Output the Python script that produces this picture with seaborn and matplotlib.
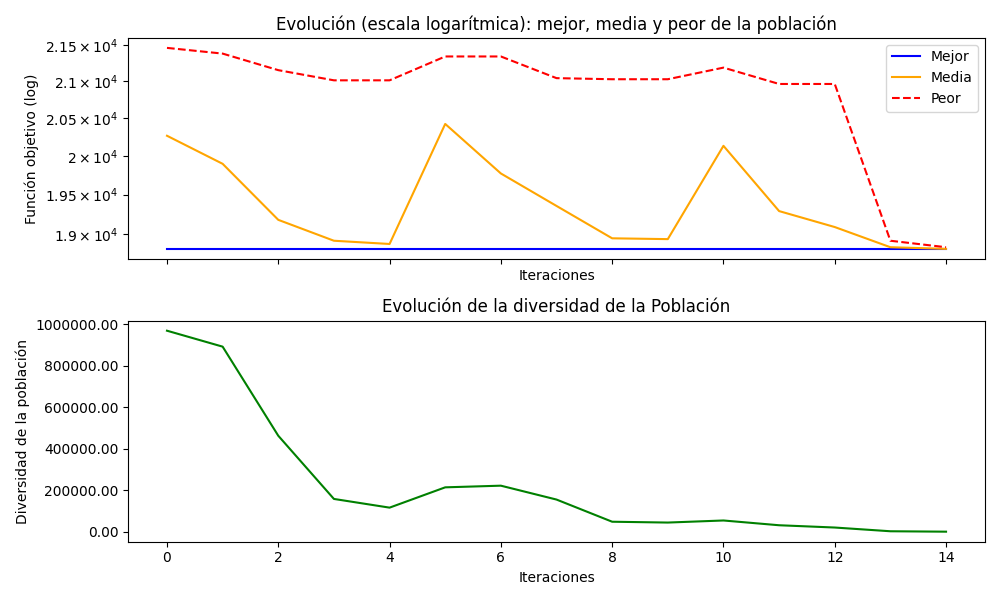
import numpy as np
import pandas as pd
import matplotlib.pyplot as plt
import seaborn as sns
from matplotlib.ticker import FixedLocator, NullLocator, FuncFormatter

# Data
iteraciones = list(range(15))
mejor = [18820] * 15
media = [20263, 19895, 19180, 18920, 18880, 20420, 19770, 19355, 18950, 18940,
         20130, 19290, 19090, 18840, 18820]
peor = [21460, 21380, 21150, 21010, 21010, 21340, 21340, 21040, 21025, 21025,
        21185, 20960, 20960, 18920, 18840]
diversidad = [970000, 893000, 463000, 158000, 116000, 214000, 222000, 155000,
              48000, 44000, 54000, 31000, 20000, 2000, 0]

yticks_top = [19000, 19500, 20000, 20500, 21000, 21500]
ytick_labels_top = [r'$1.9\times10^{4}$', r'$1.95\times10^{4}$', r'$2\times10^{4}$',
                    r'$2.05\times10^{4}$', r'$2.1\times10^{4}$', r'$2.15\times10^{4}$']

fig, (ax1, ax2) = plt.subplots(2, 1, figsize=(10, 6))

sns.lineplot(x=iteraciones, y=mejor, ax=ax1, color='blue', label='Mejor')
sns.lineplot(x=iteraciones, y=media, ax=ax1, color='orange', label='Media')
sns.lineplot(x=iteraciones, y=peor, ax=ax1, color='red', linestyle='--', label='Peor')
ax1.set_yscale('log')
ax1.yaxis.set_major_locator(FixedLocator(yticks_top))
ax1.yaxis.set_minor_locator(NullLocator())
ax1.set_yticklabels(ytick_labels_top)
ax1.set_title('Evolución (escala logarítmica): mejor, media y peor de la población')
ax1.set_ylabel('Función objetivo (log)')
ax1.legend(loc='upper right')

sns.lineplot(x=iteraciones, y=diversidad, ax=ax2, color='green')
ax2.yaxis.set_major_formatter(FuncFormatter(lambda v, p: f'{v:.2f}'))
ax2.set_title('Evolución de la diversidad de la Población')
ax2.set_xlabel('Iteraciones')
ax2.set_ylabel('Diversidad de la población')

ax1.set_xlim(ax2.get_xlim())
ax1.set_xticks(ax2.get_xticks())
ax1.set_xlim(ax2.get_xlim())
ax1.tick_params(axis='x', labelbottom=False)
ax1.set_xlabel('Iteraciones')

plt.tight_layout()
plt.savefig('out.png', dpi=100)
